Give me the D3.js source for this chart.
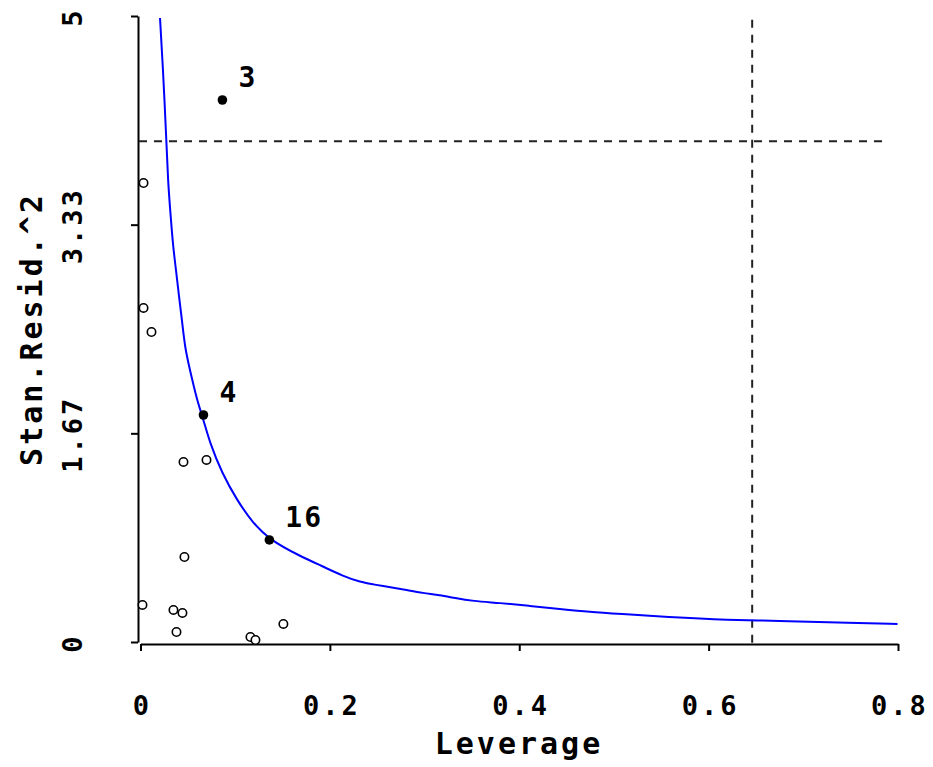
<!DOCTYPE html>
<html>
<head>
<meta charset="utf-8">
<script src="https://cdn.jsdelivr.net/npm/d3@7"></script>
<style>
  html, body { margin: 0; padding: 0; background: #fff; }
  svg { display: block; }
  text { font-family: "DejaVu Sans Mono", "Liberation Mono", monospace; font-weight: bold; fill: #000; }
</style>
</head>
<body>
<svg id="chart" width="933" height="767"></svg>
<script>
// ---- data ----
const xTicks = [0, 0.2, 0.4, 0.6, 0.8];
const xTickLabels = ["0", "0.2", "0.4", "0.6", "0.8"];
const yTicks = [0, 5 / 3, 10 / 3, 5];
const yTickLabels = ["0", "1.67", "3.33", "5"];

// open points
const openLeverage = [0.0032, 0.0032, 0.0116, 0.0454, 0.0697, 0.0464, 0.0021, 0.0348, 0.0443, 0.0380, 0.1161, 0.1214, 0.1509];
const openResid2   = [3.666, 2.668, 2.476, 1.438, 1.454, 0.679, 0.296, 0.256, 0.232, 0.080, 0.040, 0.016, 0.144];

// labelled (filled) points
const flagIds      = ["3", "4", "16"];
const flagLeverage = [0.0865, 0.0665, 0.1361];
const flagResid2   = [4.329, 1.813, 0.815];

// blue contour curve
const curveLeverage = [0.0206, 0.0237, 0.0269, 0.0290, 0.0322, 0.0343, 0.0375, 0.0406, 0.0438, 0.0470, 0.0522, 0.0596, 0.0660, 0.0733, 0.0860, 0.1018, 0.1187, 0.1367, 0.1683, 0.1916, 0.2137, 0.2317, 0.2496, 0.2633, 0.2813, 0.2982, 0.3161, 0.3319, 0.3509, 0.3794, 0.4111, 0.4427, 0.4744, 0.5061, 0.5557, 0.6190, 0.6855, 0.7488, 0.7995];
const curveResid2   = [4.984, 4.585, 4.081, 3.674, 3.371, 3.168, 2.971, 2.764, 2.572, 2.348, 2.173, 1.933, 1.789, 1.589, 1.350, 1.134, 0.950, 0.815, 0.687, 0.607, 0.527, 0.479, 0.455, 0.439, 0.415, 0.391, 0.375, 0.351, 0.327, 0.312, 0.288, 0.264, 0.240, 0.224, 0.200, 0.176, 0.168, 0.152, 0.144];

// reference lines
const hLineValue = 4.0;
const vLineValue = 0.646;

// ---- drawing ----
const svg = d3.select("#chart");
const x = d3.scaleLinear().domain([0, 0.8]).range([140.5, 898]);
const y = d3.scaleLinear().domain([0, 5]).range([642, 16]);

// axes
const yAxis = d3.axisLeft(y).tickValues(yTicks).tickSize(7).tickSizeOuter(0).tickFormat("");
const gy = svg.append("g").attr("transform", "translate(138,0)").call(yAxis);
const xAxis = d3.axisBottom(x).tickValues(xTicks).tickSize(7).tickSizeOuter(0).tickFormat("");
const gx = svg.append("g").attr("transform", "translate(0,644)").call(xAxis);
[gx, gy].forEach(g => {
  g.selectAll("path.domain").attr("stroke", "#000").attr("stroke-width", 2);
  g.selectAll(".tick line").attr("stroke", "#000").attr("stroke-width", 2);
});

// tick labels
svg.append("g").selectAll("text").data(xTicks).join("text")
  .attr("x", d => x(d) + 2)
  .attr("y", 715)
  .attr("text-anchor", "middle")
  .attr("font-size", 27)
  .attr("letter-spacing", 3)
  .text((d, i) => xTickLabels[i]);

svg.append("g").selectAll("text").data(yTicks).join("text")
  .attr("transform", d => `translate(82,${y(d) + 1}) rotate(-90)`)
  .attr("text-anchor", "middle")
  .attr("font-size", 27)
  .attr("letter-spacing", 3)
  .text((d, i) => yTickLabels[i]);

// axis titles
svg.append("text")
  .attr("x", 519).attr("y", 754)
  .attr("text-anchor", "middle")
  .attr("font-size", 30)
  .attr("letter-spacing", 3)
  .text("Leverage");

svg.append("text")
  .attr("transform", `translate(42,${(y(0) + y(5)) / 2}) rotate(-90)`)
  .attr("text-anchor", "middle")
  .attr("font-size", 30)
  .attr("letter-spacing", 3)
  .text("Stan.Resid.^2");

// dashed reference lines
svg.append("line")
  .attr("x1", 139).attr("x2", x(0.79))
  .attr("y1", y(hLineValue)).attr("y2", y(hLineValue))
  .attr("stroke", "#222").attr("stroke-width", 2).attr("stroke-dasharray", "8,7");
svg.append("line")
  .attr("x1", x(vLineValue)).attr("x2", x(vLineValue))
  .attr("y1", y(4.97)).attr("y2", 643)
  .attr("stroke", "#222").attr("stroke-width", 2).attr("stroke-dasharray", "8,7");

// blue curve
const curveData = curveLeverage.map((d, i) => [d, curveResid2[i]]);
svg.append("path")
  .datum(curveData)
  .attr("fill", "none")
  .attr("stroke", "#0000ff")
  .attr("stroke-width", 2)
  .attr("d", d3.line().x(d => x(d[0])).y(d => y(d[1])).curve(d3.curveBasis));

// open points
svg.append("g").selectAll("circle").data(openLeverage).join("circle")
  .attr("cx", d => x(d))
  .attr("cy", (d, i) => y(openResid2[i]))
  .attr("r", 4.2)
  .attr("fill", "#fff")
  .attr("stroke", "#000")
  .attr("stroke-width", 1.6);

// flagged points
svg.append("g").selectAll("circle").data(flagLeverage).join("circle")
  .attr("cx", d => x(d))
  .attr("cy", (d, i) => y(flagResid2[i]))
  .attr("r", 4.8)
  .attr("fill", "#000");

svg.append("g").selectAll("text").data(flagLeverage).join("text")
  .attr("x", d => x(d) + 16)
  .attr("y", (d, i) => y(flagResid2[i]) - 13)
  .attr("text-anchor", "start")
  .attr("font-size", 28)
  .attr("letter-spacing", 2)
  .text((d, i) => flagIds[i]);
</script>
</body>
</html>
